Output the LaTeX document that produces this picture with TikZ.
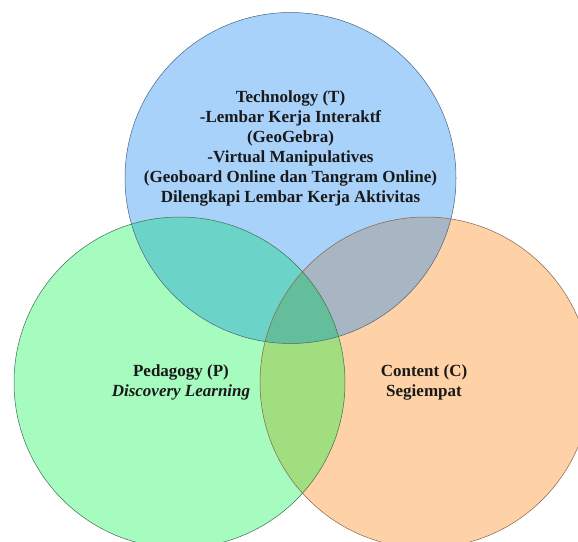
\documentclass[tikz,border=0pt]{standalone}
\usepackage{fontspec}
\setmainfont{Liberation Serif}
\usepackage{xcolor}

\definecolor{techfill}{RGB}{169,210,250}
\definecolor{pedfill}{RGB}{166,251,190}
\definecolor{contfill}{RGB}{254,210,166}
\definecolor{tpfill}{RGB}{108,211,200}
\definecolor{tcfill}{RGB}{168,181,195}
\definecolor{pcfill}{RGB}{160,222,128}
\definecolor{tpcfill}{RGB}{100,190,155}
\definecolor{techline}{RGB}{70,100,130}
\definecolor{pedline}{RGB}{60,110,80}
\definecolor{contline}{RGB}{130,100,80}

\begin{document}
\begin{tikzpicture}[x=1pt,y=-1pt,
  label/.style={align=center,font=\fontsize{17}{20}\selectfont\bfseries,text=black!90},
  venn/.style={radius=165.5pt}]
  \useasboundingbox (0,0) rectangle (578,541);

  \coordinate (T) at (290.5,178);
  \coordinate (P) at (179.5,382.5);
  \coordinate (C) at (425.5,382.5);

  % fills
  \fill[techfill,venn] (T) circle;
  \fill[pedfill,venn] (P) circle;
  \fill[contfill,venn] (C) circle;

  % overlaps
  \begin{scope}
    \clip[venn] (T) circle;
    \fill[tpfill,venn] (P) circle;
    \fill[tcfill,venn] (C) circle;
  \end{scope}
  \begin{scope}
    \clip[venn] (P) circle;
    \fill[pcfill,venn] (C) circle;
  \end{scope}
  \begin{scope}
    \clip[venn] (T) circle;
    \clip[venn] (P) circle;
    \fill[tpcfill,venn] (C) circle;
  \end{scope}

  % outlines
  \draw[techline,line width=0.5pt,venn] (T) circle;
  \draw[pedline,line width=0.5pt,venn] (P) circle;
  \draw[contline,line width=0.5pt,venn] (C) circle;

  \node[label] (tech) at (290.5,148) {Technology (T)\\-Lembar Kerja Interaktf\\(GeoGebra)\\-Virtual Manipulatives\\(Geoboard Online dan Tangram Online)\\Dilengkapi Lembar Kerja Aktivitas};
  \node[label] (ped) at (181,382) {Pedagogy (P)\\\textit{Discovery Learning}};
  \node[label] (cont) at (424,382) {Content (C)\\Segiempat};
\end{tikzpicture}
\end{document}
